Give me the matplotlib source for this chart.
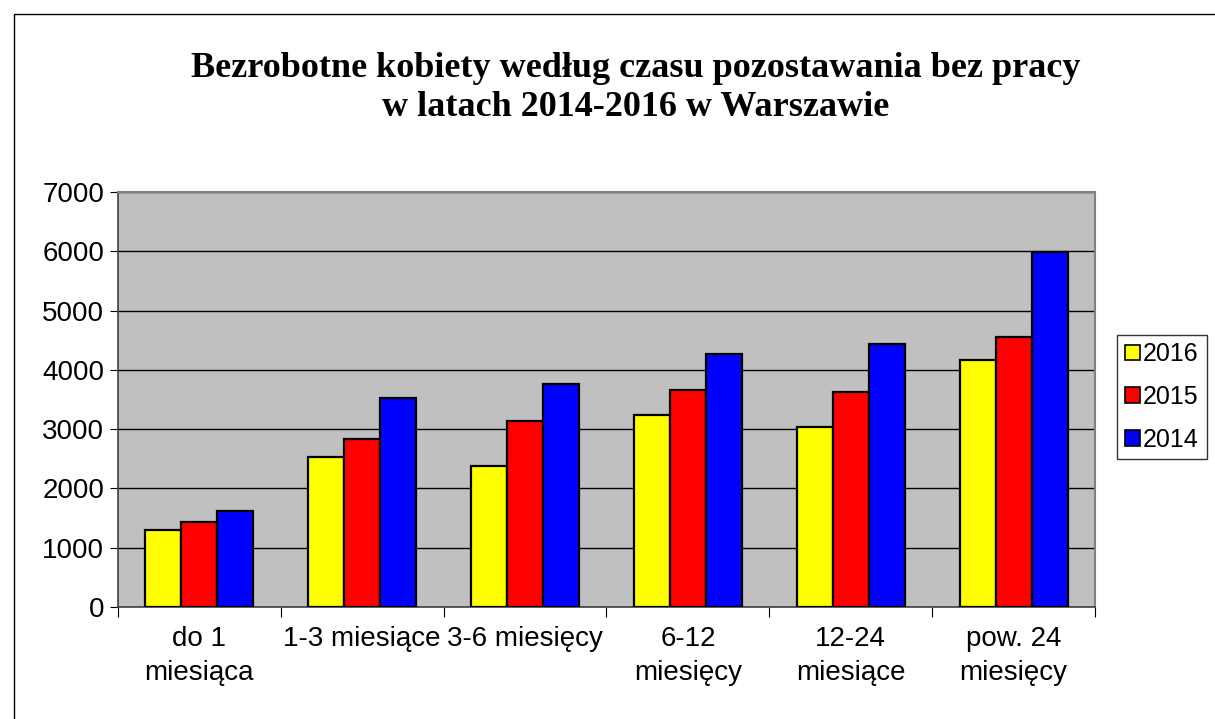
import numpy as np
import matplotlib
matplotlib.use('Agg')
import matplotlib.pyplot as plt
from matplotlib.patches import Rectangle

categories = ['do 1\nmiesiąca', '1-3 miesiące', '3-6 miesięcy', '6-12\nmiesięcy',
              '12-24\nmiesiące', 'pow. 24\nmiesięcy']
years = ['2016', '2015', '2014']
values_2016 = [1304, 2530, 2372, 3232, 3041, 4165]
values_2015 = [1433, 2827, 3137, 3654, 3620, 4559]
values_2014 = [1619, 3524, 3761, 4261, 4435, 5992]
colors = ['#FFFF00', '#FF0000', '#0000FF']

fig = plt.figure(figsize=(12.15, 7.19), dpi=100)
fig.patch.set_facecolor('white')

# outer chart border (right/bottom run off the picture)
fig.patches.append(Rectangle((14 / 1215, -0.1), 1.2, 1 - 14 / 719 + 0.1,
                             transform=fig.transFigure, fill=False,
                             edgecolor='black', linewidth=1))

ax = fig.add_axes([118 / 1215, 1 - 607 / 719, 977 / 1215, 415 / 719])
ax.set_facecolor('#C0C0C0')

x = np.arange(len(categories))
width = 0.221
series = [values_2016, values_2015, values_2014]
for i, (vals, col, yr) in enumerate(zip(series, colors, years)):
    ax.bar(x + (i - 1) * width, vals, width, color=col, edgecolor='black',
           linewidth=1.6, label=yr, zorder=3)

ax.set_xlim(-0.5, len(categories) - 0.5)
ax.set_ylim(0, 7000)
ax.set_yticks(range(0, 7001, 1000))
ax.yaxis.grid(True, color='black', linewidth=1.0, zorder=1)
ax.set_axisbelow(True)

# category tick marks at boundaries, labels at centers
ax.set_xticks(np.arange(-0.5, len(categories)), minor=False)
ax.set_xticklabels([])
ax.set_xticks(x, minor=True)
ax.set_xticklabels(categories, minor=True, fontsize=20, family='Liberation Sans',
                   linespacing=1.4)
ax.tick_params(axis='x', which='major', length=7, color='black', direction='out')
ax.tick_params(axis='x', which='minor', length=0, pad=14)
ax.tick_params(axis='y', length=6, color='black', labelsize=20, pad=4)
for lbl in ax.get_yticklabels():
    lbl.set_family('Liberation Sans')
for lbl in ax.get_xticklabels(minor=True):
    lbl.set_verticalalignment('top')

for side in ['top', 'right']:
    ax.spines[side].set_color('#808080')
    ax.spines[side].set_linewidth(1.5)
for side in ['left', 'bottom']:
    ax.spines[side].set_color('#404040')
    ax.spines[side].set_linewidth(1.2)

fig.text(0.523, 1 - 88 / 719,
         'Bezrobotne kobiety według czasu pozostawania bez pracy\nw latach 2014-2016 w Warszawie',
         ha='center', va='center', fontsize=26, fontweight='bold',
         family='Liberation Serif', linespacing=1.27)

leg = ax.legend(loc='center left', bbox_to_anchor=(1117 / 1215, 1 - 397 / 719),
                bbox_transform=fig.transFigure, frameon=True, fancybox=False,
                prop={'family': 'Liberation Sans', 'size': 18},
                handlelength=0.6, handleheight=0.6, handletextpad=0.15,
                labelspacing=0.75, borderpad=0.3, borderaxespad=0)
leg.get_frame().set_edgecolor('black')
leg.get_frame().set_linewidth(1)
for h in leg.legend_handles:
    h.set_linewidth(1.2)

fig.savefig('out.png', dpi=100)
